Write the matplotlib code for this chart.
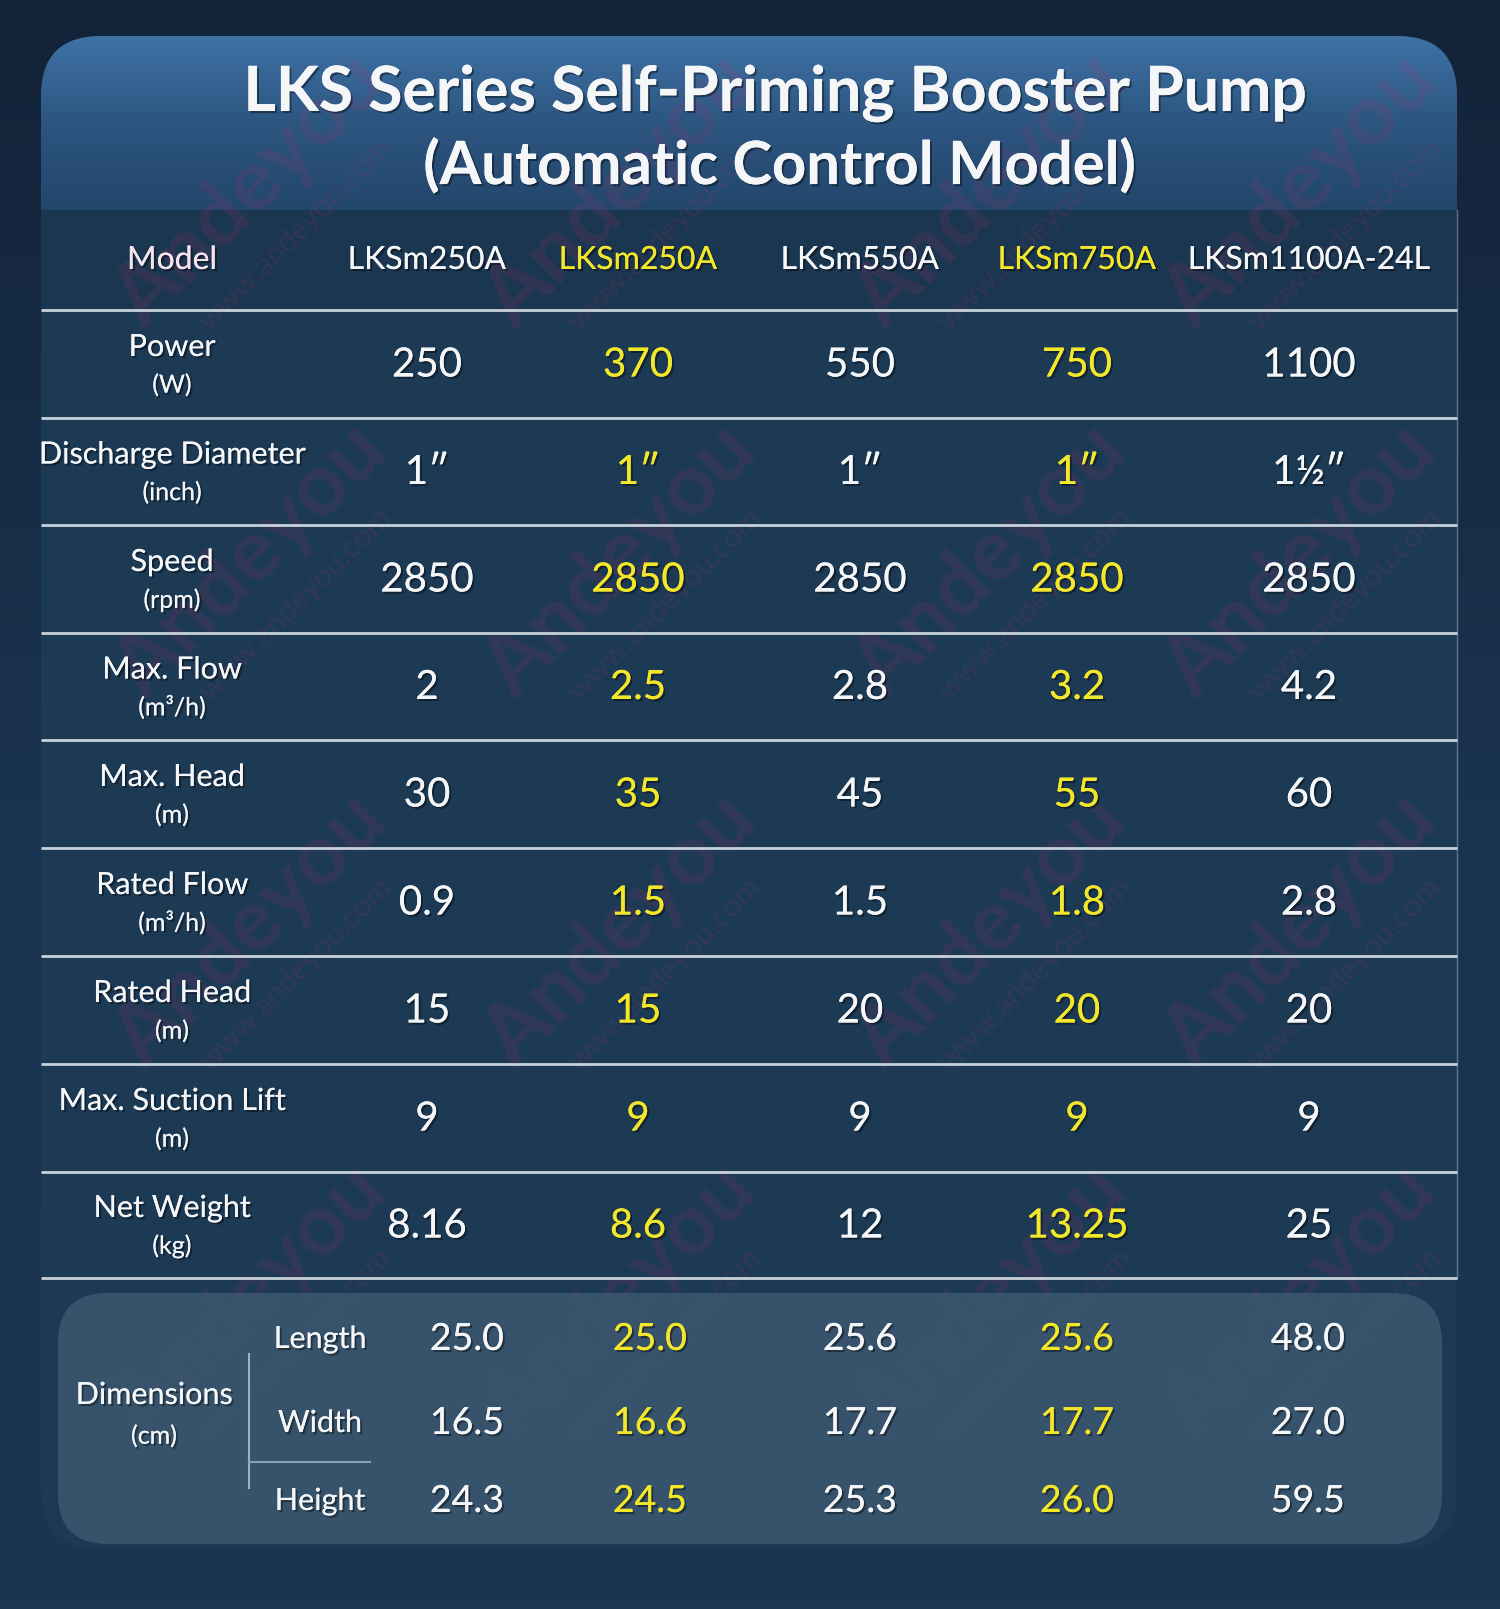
import matplotlib
matplotlib.use("Agg")
import matplotlib.pyplot as plt
import matplotlib.patheffects as pe
from matplotlib.patches import FancyBboxPatch, Rectangle
import numpy as np

plt.rcParams['font.family'] = ['Lato', 'DejaVu Sans']

# table content
title_1 = "LKS Series Self-Priming Booster Pump"
title_2 = "(Automatic Control Model)"
models = ["LKSm250A", "LKSm250A", "LKSm550A", "LKSm750A", "LKSm1100A-24L"]
row_names = ["Power", "Discharge Diameter", "Speed", "Max. Flow", "Max. Head",
             "Rated Flow", "Rated Head", "Max. Suction Lift", "Net Weight"]
row_units = ["(W)", "(inch)", "(rpm)", "(m³/h)", "(m)", "(m³/h)", "(m)", "(m)", "(kg)"]
power = ["250", "370", "550", "750", "1100"]
diameter = ["1″", "1″", "1″", "1″", "1½″"]
speed = ["2850", "2850", "2850", "2850", "2850"]
max_flow = ["2", "2.5", "2.8", "3.2", "4.2"]
max_head = ["30", "35", "45", "55", "60"]
rated_flow = ["0.9", "1.5", "1.5", "1.8", "2.8"]
rated_head = ["15", "15", "20", "20", "20"]
suction_lift = ["9", "9", "9", "9", "9"]
net_weight = ["8.16", "8.6", "12", "13.25", "25"]
rows = [power, diameter, speed, max_flow, max_head, rated_flow, rated_head,
        suction_lift, net_weight]
dim_names = ["Length", "Width", "Height"]
length = ["25.0", "25.0", "25.6", "25.6", "48.0"]
width = ["16.5", "16.6", "17.7", "17.7", "27.0"]
height = ["24.3", "24.5", "25.3", "26.0", "59.5"]
dims = [length, width, height]

W, H = 1500, 1609
WHITE = "#f4f6f8"
YELLOW = "#f3e72a"
col_colors = [WHITE, YELLOW, WHITE, YELLOW, WHITE]

fig = plt.figure(figsize=(W / 100, H / 100), dpi=100)
fig.patch.set_facecolor("#15273f")
ax = fig.add_axes([0, 0, 1, 1])
ax.set_xlim(0, W)
ax.set_ylim(H, 0)
ax.axis("off")

# background
bg = np.linspace(0, 1, 256).reshape(-1, 1)
ax.imshow(bg, extent=(0, W, H, 0), cmap=matplotlib.colors.LinearSegmentedColormap.from_list(
    "bg", ["#132339", "#1a3350", "#1c3652"]), aspect="auto", zorder=0)

# card
card = FancyBboxPatch((41, 36), 1416, 1513, boxstyle="round,pad=0,rounding_size=60",
                      facecolor="#1d3a55", edgecolor="none", zorder=1)
ax.add_patch(card)
grad = np.linspace(0, 1, 256).reshape(-1, 1)
hdr = ax.imshow(grad, extent=(41, 1457, 212, 36), aspect="auto", zorder=2,
                cmap=matplotlib.colors.LinearSegmentedColormap.from_list(
                    "hdr", ["#3f72a6", "#2c5580", "#23466b"]))
hdr.set_clip_path(card)
ax.add_patch(Rectangle((41, 210), 1416, 100, facecolor="#1b3650", edgecolor="none", zorder=2))
ax.plot([1457, 1457], [210, 1278], color="#8fa3b5", lw=1, alpha=0.6, zorder=4)

# watermark
for wx in [250, 620, 990, 1300]:
    for wy in [190, 560, 930, 1300]:
        ax.text(wx, wy, "Andeyou", fontsize=62, fontweight="bold", color="#c0306a",
                alpha=0.13, rotation=45, ha="center", va="center", zorder=3)
        ax.text(wx + 45, wy + 45, "www.andeyou.com", fontsize=22, color="#c0306a",
                alpha=0.13, rotation=45, ha="center", va="center", zorder=3)

shadow = [pe.withSimplePatchShadow(offset=(1.5, -1.5), shadow_rgbFace="black", alpha=0.4),
          pe.Normal()]

# title
ax.text(775, 94, title_1, fontsize=45, fontweight="bold", color=WHITE,
        ha="center", va="center", zorder=5, path_effects=shadow)
ax.text(780, 166, title_2, fontsize=43, fontweight="bold", color=WHITE,
        ha="center", va="center", zorder=5, path_effects=shadow)

col_x = [427, 638, 860, 1077, 1309]
label_x = 172

# header row
ax.text(label_x, 260, "Model", fontsize=23, color="#f3e4ee", ha="center", va="center",
        zorder=5, path_effects=shadow)
for cx, m, c in zip(col_x, models, col_colors):
    ax.text(cx, 260, m, fontsize=23, color=c, ha="center", va="center", zorder=5,
            path_effects=shadow)

# separator lines
line_y = [310, 418, 525, 633, 740, 848, 956, 1064, 1172, 1278]
for ly in line_y:
    ax.plot([41, 1457], [ly, ly], color="#c8d2db", lw=2, zorder=4, solid_capstyle="butt")

# body rows
for i, (name, unit, vals) in enumerate(zip(row_names, row_units, rows)):
    yc = (line_y[i] + line_y[i + 1]) / 2
    ax.text(label_x, yc - 17, name, fontsize=22, color=WHITE, ha="center", va="center",
            zorder=5, path_effects=shadow)
    ax.text(label_x, yc + 21, unit, fontsize=18, color=WHITE, ha="center", va="center",
            zorder=5, path_effects=shadow)
    for cx, v, c in zip(col_x, vals, col_colors):
        ax.text(cx, yc + 1, v, fontsize=29, color=c, ha="center", va="center", zorder=5,
                path_effects=shadow)

# dimensions panel
panel = FancyBboxPatch((58, 1293), 1384, 251, boxstyle="round,pad=0,rounding_size=50",
                       facecolor="#3b5870", edgecolor="none", alpha=0.85, zorder=3)
ax.add_patch(panel)
ax.text(154, 1395, "Dimensions", fontsize=22, color=WHITE, ha="center", va="center",
        zorder=5, path_effects=shadow)
ax.text(154, 1436, "(cm)", fontsize=18, color=WHITE, ha="center", va="center",
        zorder=5, path_effects=shadow)
ax.plot([249, 249], [1354, 1488], color="#9fb0c0", lw=1.5, zorder=4)
ax.plot([249, 370], [1462, 1462], color="#8aa0b2", lw=1.5, zorder=4)

dim_y = [1339, 1423, 1501]
dim_x = [467, 650, 860, 1077, 1308]
for dy, name, vals in zip(dim_y, dim_names, dims):
    ax.text(320, dy, name, fontsize=22, color=WHITE, ha="center", va="center",
            zorder=5, path_effects=shadow)
    for cx, v, c in zip(dim_x, vals, col_colors):
        ax.text(cx, dy, v, fontsize=27, color=c, ha="center", va="center", zorder=5,
                path_effects=shadow)

fig.savefig("out.png", dpi=100, facecolor=fig.get_facecolor())
